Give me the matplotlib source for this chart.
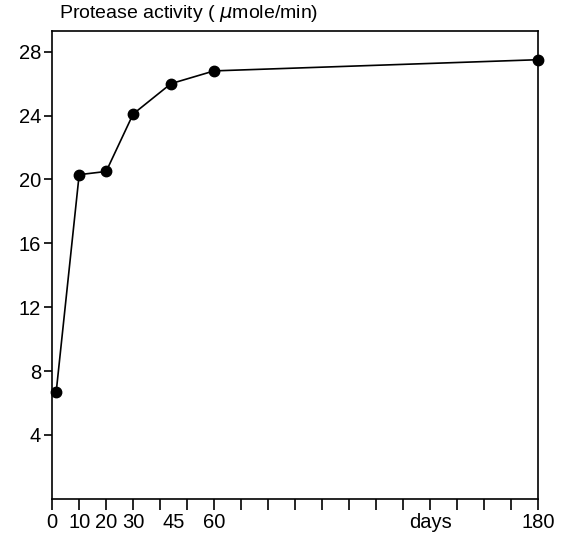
import matplotlib
matplotlib.use('Agg')
import matplotlib.pyplot as plt

matplotlib.rcParams['font.family'] = ['Liberation Sans', 'DejaVu Sans']

days = [1.5, 10, 20, 30, 44, 60, 180]
activity = [6.7, 20.3, 20.5, 24.1, 26.0, 26.8, 27.5]

xlabel_pos = [0, 10, 20, 30, 45, 60, 140, 180]
xlabel_txt = ['0', '10', '20', '30', '45', '60', 'days', '180']
ytick_pos = [4, 8, 12, 16, 20, 24, 28]


def protease_plot():
    fig = plt.figure(figsize=(5.67, 5.34), dpi=100)
    ax = fig.add_axes([0.092, 0.066, 0.857, 0.876])

    ax.plot(days, activity, '-', color='black', lw=1.2)
    ax.plot(days, activity, 'o', color='black', markersize=7.5, clip_on=False)

    ax.set_xlim(0, 180)
    ax.set_ylim(0, 29.3)

    # tick marks every 10 days, labels set separately
    ax.xaxis.remove_overlapping_locs = False
    ax.set_xticks(range(0, 181, 10), minor=True)
    ax.set_xticks(xlabel_pos, xlabel_txt)
    ax.tick_params(axis='x', which='major', length=0, pad=10, labelsize=14.5)
    ax.tick_params(axis='x', which='minor', length=8, width=1.2, direction='out')

    ax.set_yticks(ytick_pos)
    ax.tick_params(axis='y', length=6, width=1.2, pad=2, labelsize=14.5)

    for sp in ax.spines.values():
        sp.set_linewidth(1.2)

    fig.text(0.104, 0.974, 'Protease activity ( $\\mu$mole/min)',
             fontsize=14, va='center', ha='left')

    fig.savefig('out.png', dpi=100)


if __name__ == '__main__':
    protease_plot()
